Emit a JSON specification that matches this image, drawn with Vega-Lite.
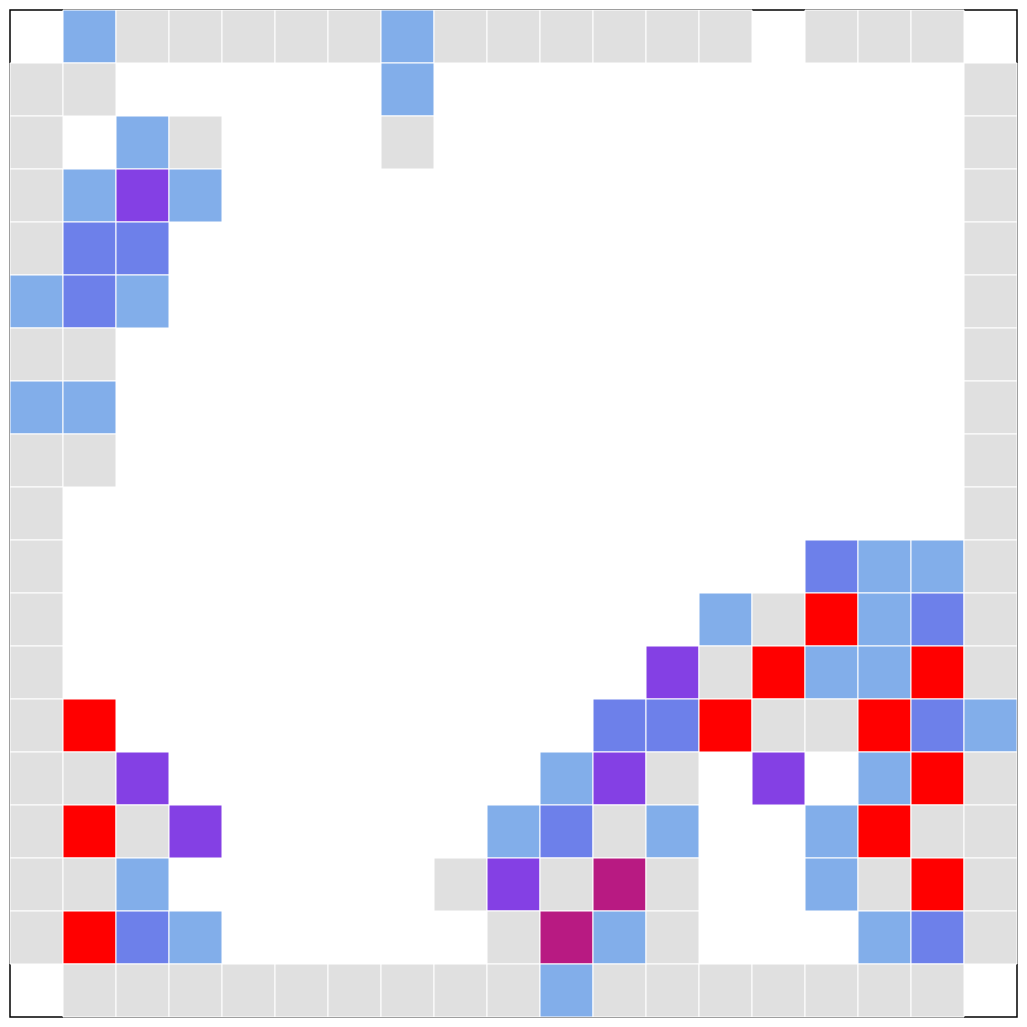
{
  "$schema": "https://vega.github.io/schema/vega-lite/v6.json",
  "width": 1007,
  "height": 1007,
  "padding": 10,
  "autosize": {"type": "none"},
  "background": "white",
  "config": {"view": {"stroke": "black", "strokeWidth": 1.5}},
  "data": {"values": [
    {"r":0,"c":1,"k":"L"},{"r":0,"c":2,"k":"G"},{"r":0,"c":3,"k":"G"},{"r":0,"c":4,"k":"G"},{"r":0,"c":5,"k":"G"},{"r":0,"c":6,"k":"G"},{"r":0,"c":7,"k":"L"},{"r":0,"c":8,"k":"G"},{"r":0,"c":9,"k":"G"},{"r":0,"c":10,"k":"G"},{"r":0,"c":11,"k":"G"},{"r":0,"c":12,"k":"G"},{"r":0,"c":13,"k":"G"},{"r":0,"c":15,"k":"G"},{"r":0,"c":16,"k":"G"},{"r":0,"c":17,"k":"G"},
    {"r":1,"c":0,"k":"G"},{"r":1,"c":1,"k":"G"},{"r":1,"c":7,"k":"L"},{"r":1,"c":18,"k":"G"},
    {"r":2,"c":0,"k":"G"},{"r":2,"c":2,"k":"L"},{"r":2,"c":3,"k":"G"},{"r":2,"c":7,"k":"G"},{"r":2,"c":18,"k":"G"},
    {"r":3,"c":0,"k":"G"},{"r":3,"c":1,"k":"L"},{"r":3,"c":2,"k":"P"},{"r":3,"c":3,"k":"L"},{"r":3,"c":18,"k":"G"},
    {"r":4,"c":0,"k":"G"},{"r":4,"c":1,"k":"M"},{"r":4,"c":2,"k":"M"},{"r":4,"c":18,"k":"G"},
    {"r":5,"c":0,"k":"L"},{"r":5,"c":1,"k":"M"},{"r":5,"c":2,"k":"L"},{"r":5,"c":18,"k":"G"},
    {"r":6,"c":0,"k":"G"},{"r":6,"c":1,"k":"G"},{"r":6,"c":18,"k":"G"},
    {"r":7,"c":0,"k":"L"},{"r":7,"c":1,"k":"L"},{"r":7,"c":18,"k":"G"},
    {"r":8,"c":0,"k":"G"},{"r":8,"c":1,"k":"G"},{"r":8,"c":18,"k":"G"},
    {"r":9,"c":0,"k":"G"},{"r":9,"c":18,"k":"G"},
    {"r":10,"c":0,"k":"G"},{"r":10,"c":15,"k":"M"},{"r":10,"c":16,"k":"L"},{"r":10,"c":17,"k":"L"},{"r":10,"c":18,"k":"G"},
    {"r":11,"c":0,"k":"G"},{"r":11,"c":13,"k":"L"},{"r":11,"c":14,"k":"G"},{"r":11,"c":15,"k":"R"},{"r":11,"c":16,"k":"L"},{"r":11,"c":17,"k":"M"},{"r":11,"c":18,"k":"G"},
    {"r":12,"c":0,"k":"G"},{"r":12,"c":12,"k":"P"},{"r":12,"c":13,"k":"G"},{"r":12,"c":14,"k":"R"},{"r":12,"c":15,"k":"L"},{"r":12,"c":16,"k":"L"},{"r":12,"c":17,"k":"R"},{"r":12,"c":18,"k":"G"},
    {"r":13,"c":0,"k":"G"},{"r":13,"c":1,"k":"R"},{"r":13,"c":11,"k":"M"},{"r":13,"c":12,"k":"M"},{"r":13,"c":13,"k":"R"},{"r":13,"c":14,"k":"G"},{"r":13,"c":15,"k":"G"},{"r":13,"c":16,"k":"R"},{"r":13,"c":17,"k":"M"},{"r":13,"c":18,"k":"L"},
    {"r":14,"c":0,"k":"G"},{"r":14,"c":1,"k":"G"},{"r":14,"c":2,"k":"P"},{"r":14,"c":10,"k":"L"},{"r":14,"c":11,"k":"P"},{"r":14,"c":12,"k":"G"},{"r":14,"c":14,"k":"P"},{"r":14,"c":16,"k":"L"},{"r":14,"c":17,"k":"R"},{"r":14,"c":18,"k":"G"},
    {"r":15,"c":0,"k":"G"},{"r":15,"c":1,"k":"R"},{"r":15,"c":2,"k":"G"},{"r":15,"c":3,"k":"P"},{"r":15,"c":9,"k":"L"},{"r":15,"c":10,"k":"M"},{"r":15,"c":11,"k":"G"},{"r":15,"c":12,"k":"L"},{"r":15,"c":15,"k":"L"},{"r":15,"c":16,"k":"R"},{"r":15,"c":17,"k":"G"},{"r":15,"c":18,"k":"G"},
    {"r":16,"c":0,"k":"G"},{"r":16,"c":1,"k":"G"},{"r":16,"c":2,"k":"L"},{"r":16,"c":8,"k":"G"},{"r":16,"c":9,"k":"P"},{"r":16,"c":10,"k":"G"},{"r":16,"c":11,"k":"X"},{"r":16,"c":12,"k":"G"},{"r":16,"c":15,"k":"L"},{"r":16,"c":16,"k":"G"},{"r":16,"c":17,"k":"R"},{"r":16,"c":18,"k":"G"},
    {"r":17,"c":0,"k":"G"},{"r":17,"c":1,"k":"R"},{"r":17,"c":2,"k":"M"},{"r":17,"c":3,"k":"L"},{"r":17,"c":9,"k":"G"},{"r":17,"c":10,"k":"X"},{"r":17,"c":11,"k":"L"},{"r":17,"c":12,"k":"G"},{"r":17,"c":16,"k":"L"},{"r":17,"c":17,"k":"M"},{"r":17,"c":18,"k":"G"},
    {"r":18,"c":1,"k":"G"},{"r":18,"c":2,"k":"G"},{"r":18,"c":3,"k":"G"},{"r":18,"c":4,"k":"G"},{"r":18,"c":5,"k":"G"},{"r":18,"c":6,"k":"G"},{"r":18,"c":7,"k":"G"},{"r":18,"c":8,"k":"G"},{"r":18,"c":9,"k":"G"},{"r":18,"c":10,"k":"L"},{"r":18,"c":11,"k":"G"},{"r":18,"c":12,"k":"G"},{"r":18,"c":13,"k":"G"},{"r":18,"c":14,"k":"G"},{"r":18,"c":15,"k":"G"},{"r":18,"c":16,"k":"G"},{"r":18,"c":17,"k":"G"}
  ]},
  "mark": {"type": "rect", "stroke": "white", "strokeWidth": 1},
  "encoding": {
    "x": {"field": "c", "type": "ordinal", "scale": {"domain": [0,1,2,3,4,5,6,7,8,9,10,11,12,13,14,15,16,17,18], "paddingInner": 0, "paddingOuter": 0}, "axis": null},
    "y": {"field": "r", "type": "ordinal", "scale": {"domain": [0,1,2,3,4,5,6,7,8,9,10,11,12,13,14,15,16,17,18], "paddingInner": 0, "paddingOuter": 0}, "axis": null},
    "color": {"field": "k", "type": "nominal", "scale": {"domain": ["G","L","M","P","X","R"], "range": ["#e0e0e0","#82aeea","#6d80ea","#8440e4","#b81a82","#ff0000"]}, "legend": null}
  }
}
